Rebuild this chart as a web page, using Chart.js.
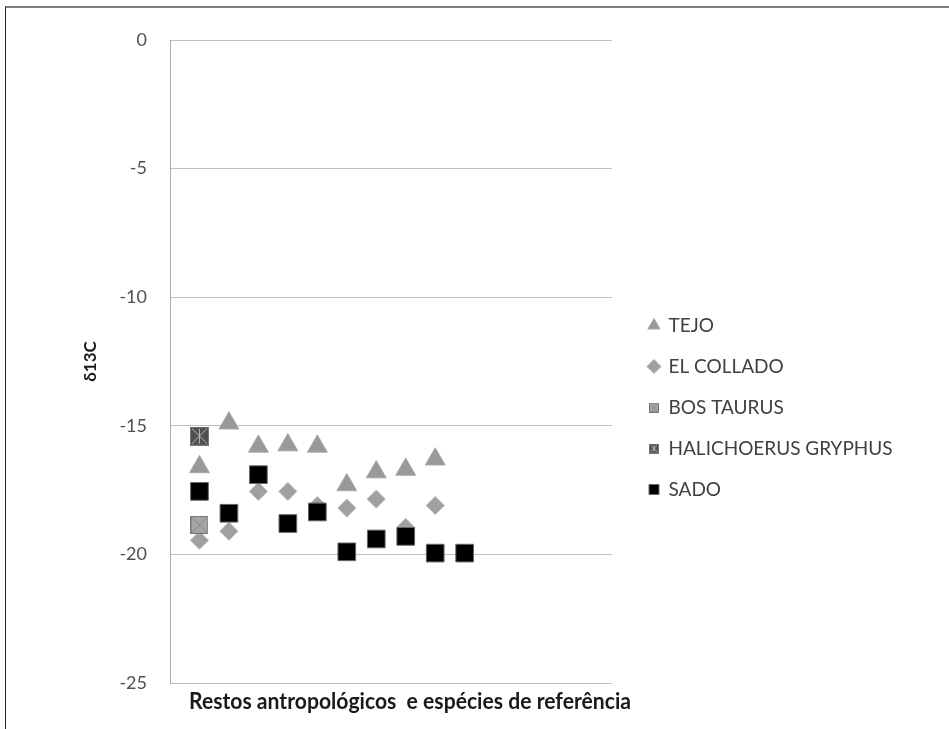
<!DOCTYPE html>
<html>
<head>
<meta charset="utf-8">
<script src="https://cdn.jsdelivr.net/npm/chart.js@4.4.0/dist/chart.umd.min.js"></script>
<style>
    html, body { margin: 0; padding: 0; background: #fff; }
    #wrap { position: relative; width: 949px; height: 729px; }
    #frame { position: absolute; left: 5px; top: 6px; right: 0; bottom: 0;
             border-top: 2px solid #808080; border-left: 1px solid #222; pointer-events: none; }
</style>
</head>
<body>
<div id="wrap">
    <canvas id="myChart" width="949" height="729"></canvas>
    <div id="frame"></div>
</div>
<script>
// values (x = sample index)
const tejoX = [1, 2, 3, 4, 5, 6, 7, 8, 9];
const tejoY = [-16.6, -14.9, -15.8, -15.75, -15.8, -17.3, -16.8, -16.7, -16.3];
const colladoX = [1, 2, 3, 4, 5, 6, 7, 8, 9];
const colladoY = [-19.45, -19.1, -17.55, -17.55, -18.1, -18.2, -17.85, -18.95, -18.1];
const bosX = [1];
const bosY = [-18.85];
const haliX = [1];
const haliY = [-15.4];
const sadoX = [1, 2, 3, 4, 5, 6, 7, 8, 9, 10];
const sadoY = [-17.55, -18.4, -16.9, -18.8, -18.35, -19.9, -19.4, -19.3, -19.95, -19.95];
const yTicks = [0, -5, -10, -15, -20, -25];

function pts(xs, ys) {
    return xs.map((x, i) => ({ x: x, y: ys[i] }));
}

// square marker with cross pattern
function crossMarker(size, fill, line, star) {
    const c = document.createElement('canvas');
    c.width = size; c.height = size;
    const g = c.getContext('2d');
    g.fillStyle = fill;
    g.fillRect(0, 0, size, size);
    g.strokeStyle = line;
    g.lineWidth = 1;
    g.beginPath();
    g.moveTo(2, 2); g.lineTo(size - 2, size - 2);
    g.moveTo(size - 2, 2); g.lineTo(2, size - 2);
    if (star) { g.moveTo(size / 2, 2); g.lineTo(size / 2, size - 2); }
    g.stroke();
    g.strokeStyle = '#777';
    g.strokeRect(0.5, 0.5, size - 1, size - 1);
    return c;
}

const bosImg = crossMarker(18, '#a4a4a4', '#8a8a8a', false);
const haliImg = crossMarker(19, '#505050', '#b5b5b5', true);
const bosLegend = crossMarker(10, '#a4a4a4', '#8a8a8a', false);
const haliLegend = crossMarker(10, '#505050', '#b5b5b5', true);

// nudge legend and x title like in the original
const layoutFix = {
    id: 'layoutFix',
    afterLayout(chart) {
        const lg = chart.legend;
        lg.left += 15; lg.right += 15;
        lg.top += 23; lg.bottom += 23;
        const xs = chart.scales.x;
        xs.left += 19; xs.right += 19;
    }
};

function drawChart() {
    const ctx = document.getElementById('myChart');
    const chart = new Chart(ctx, {
        type: 'scatter',
        data: {
            datasets: [{
                label: 'TEJO',
                data: pts(tejoX, tejoY),
                pointStyle: 'triangle',
                radius: 11.5,
                backgroundColor: '#999999',
                borderColor: '#a9a9a9',
                borderWidth: 1,
                order: 5
            }, {
                label: 'EL COLLADO',
                data: pts(colladoX, colladoY),
                pointStyle: 'rectRot',
                radius: 9,
                backgroundColor: '#a0a0a0',
                borderColor: '#b4b4b4',
                borderWidth: 1,
                order: 4
            }, {
                label: 'BOS TAURUS',
                data: pts(bosX, bosY),
                pointStyle: bosImg,
                legendStyle: bosLegend,
                backgroundColor: '#a4a4a4',
                borderColor: '#a4a4a4',
                order: 3
            }, {
                label: 'HALICHOERUS GRYPHUS',
                data: pts(haliX, haliY),
                pointStyle: haliImg,
                legendStyle: haliLegend,
                backgroundColor: '#505050',
                borderColor: '#505050',
                order: 2
            }, {
                label: 'SADO',
                data: pts(sadoX, sadoY),
                pointStyle: 'rect',
                radius: 12.5,
                backgroundColor: '#000000',
                borderColor: '#666666',
                borderWidth: 1,
                order: 1
            }]
        },
        options: {
            responsive: false,
            animation: false,
            layout: { padding: { left: 80, top: 40, right: 60, bottom: 0 } },
            plugins: {
                tooltip: { enabled: false },
                legend: {
                    position: 'right',
                    align: 'center',
                    maxWidth: 320,
                    labels: {
                        usePointStyle: true,
                        boxWidth: 10,
                        boxHeight: 10,
                        padding: 22,
                        color: '#404040',
                        font: { family: 'Lato', size: 19 },
                        sort: (a, b) => a.datasetIndex - b.datasetIndex,
                        generateLabels(chart) {
                            const items = Chart.defaults.plugins.legend.labels.generateLabels(chart);
                            items.forEach(it => {
                                const ds = chart.data.datasets[it.datasetIndex];
                                if (ds.legendStyle) it.pointStyle = ds.legendStyle;
                            });
                            return items;
                        }
                    }
                }
            },
            scales: {
                x: {
                    type: 'linear',
                    min: 0,
                    max: 15,
                    grid: { display: false, drawTicks: false },
                    border: { display: false },
                    ticks: { display: false },
                    title: {
                        display: true,
                        text: 'Restos antropológicos  e espécies de referência',
                        color: '#1a1a1a',
                        font: { family: 'Lato', size: 23, weight: 'bold' },
                        padding: { top: 0, bottom: 14 }
                    },
                    afterFit(scale) { scale.height = 46; }
                },
                y: {
                    min: -25,
                    max: 0,
                    afterBuildTicks(scale) { scale.ticks = yTicks.map(v => ({ value: v })); },
                    grid: { color: '#c0c0c0', drawTicks: false },
                    border: { color: '#b0b0b0' },
                    ticks: {
                        padding: 23,
                        color: '#505050',
                        font: { family: 'Lato', size: 18 }
                    },
                    title: {
                        display: true,
                        text: 'δ13C',
                        color: '#1a1a1a',
                        font: { family: 'Lato', size: 17, weight: 'bold' },
                        padding: { top: 0, bottom: 4 }
                    },
                    afterFit(scale) { scale.width = 90; }
                }
            }
        },
        plugins: [layoutFix]
    });
    // plot area should end at x = 612 like the original
    chart.options.layout.padding.right = 949 - 612 - chart.legend.width;
    chart.update();
}

Promise.all([
    document.fonts.load('18px Lato'),
    document.fonts.load('bold 18px Lato')
]).then(drawChart, drawChart);
</script>
</body>
</html>
